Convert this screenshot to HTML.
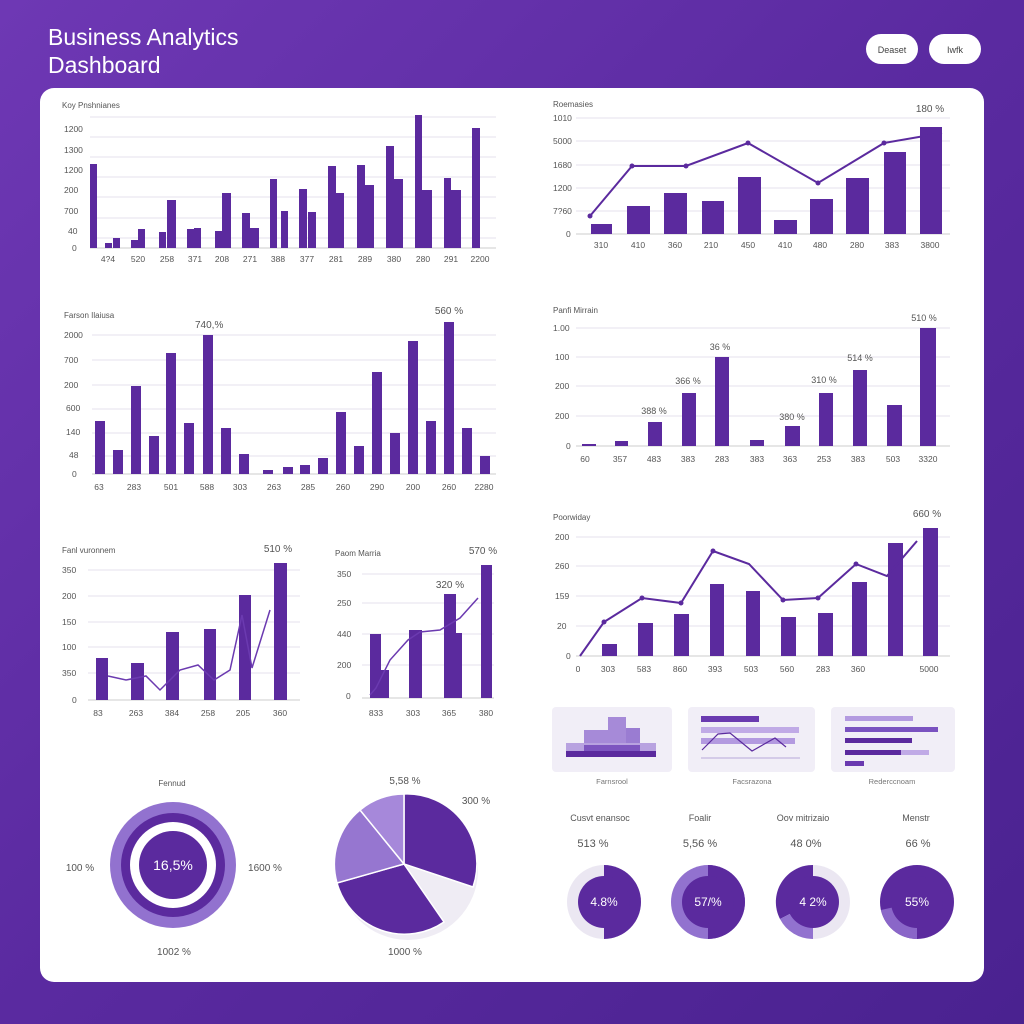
<!DOCTYPE html>
<html><head><meta charset="utf-8"><style>
html,body{margin:0;padding:0;width:1024px;height:1024px;overflow:hidden}
body{background:linear-gradient(135deg,#6e38b4 0%,#5a2aa0 50%,#4a2290 100%)}
svg{position:absolute;left:0;top:0}
text{font-family:"Liberation Sans",sans-serif}
</style></head><body>
<svg width="1024" height="1024" viewBox="0 0 1024 1024">
<text x="48" y="45" font-size="23" fill="#fff">Business Analytics</text>
<text x="48" y="73" font-size="23" fill="#fff">Dashboard</text>
<rect x="866" y="34" width="52" height="30" rx="15" fill="#fff"/>
<text x="892" y="53" font-size="9" fill="#444" text-anchor="middle">Deaset</text>
<rect x="929" y="34" width="52" height="30" rx="15" fill="#fff"/>
<text x="955" y="53" font-size="9" fill="#444" text-anchor="middle">Iwfk</text>
<rect x="40" y="88" width="944" height="894" rx="14" fill="#fff"/>

<g fill="#555" font-size="8.5">
<!-- Chart 1 -->
<text x="62" y="108" font-size="8">Koy Pnshnianes</text>
<g stroke="#e6e2ec" stroke-width="1">
<line x1="90" y1="117" x2="496" y2="117"/><line x1="90" y1="137" x2="496" y2="137"/><line x1="90" y1="157" x2="496" y2="157"/><line x1="90" y1="177" x2="496" y2="177"/><line x1="90" y1="197" x2="496" y2="197"/><line x1="90" y1="218" x2="496" y2="218"/><line x1="90" y1="238" x2="496" y2="238"/><line x1="90" y1="248" x2="496" y2="248" stroke="#ccc"/></g>
<text x="64" y="132">1200</text><text x="64" y="153">1300</text><text x="64" y="173">1200</text><text x="64" y="193">200</text><text x="64" y="214">700</text><text x="68" y="234">40</text><text x="72" y="251">0</text>
<g fill="#5b2a9e">
<rect x="90" y="164" width="7" height="84"/><rect x="105" y="243" width="7" height="5"/><rect x="113" y="238" width="7" height="10"/>
<rect x="131" y="240" width="7" height="8"/><rect x="138" y="229" width="7" height="19"/>
<rect x="159" y="232" width="7" height="16"/><rect x="167" y="200" width="9" height="48"/>
<rect x="187" y="229" width="7" height="19"/><rect x="194" y="228" width="7" height="20"/>
<rect x="215" y="231" width="7" height="17"/><rect x="222" y="193" width="9" height="55"/>
<rect x="242" y="213" width="8" height="35"/><rect x="250" y="228" width="9" height="20"/>
<rect x="270" y="179" width="7" height="69"/><rect x="281" y="211" width="7" height="37"/>
<rect x="299" y="189" width="8" height="59"/><rect x="308" y="212" width="8" height="36"/>
<rect x="328" y="166" width="8" height="82"/><rect x="336" y="193" width="8" height="55"/>
<rect x="357" y="165" width="8" height="83"/><rect x="365" y="185" width="9" height="63"/>
<rect x="386" y="146" width="8" height="102"/><rect x="394" y="179" width="9" height="69"/>
<rect x="415" y="115" width="7" height="133"/><rect x="422" y="190" width="10" height="58"/>
<rect x="444" y="178" width="7" height="70"/><rect x="451" y="190" width="10" height="58"/>
<rect x="472" y="128" width="8" height="120"/></g>
<g text-anchor="middle"><text x="108" y="262">4?4</text><text x="138" y="262">520</text><text x="167" y="262">258</text><text x="195" y="262">371</text><text x="222" y="262">208</text><text x="250" y="262">271</text><text x="278" y="262">388</text><text x="307" y="262">377</text><text x="336" y="262">281</text><text x="365" y="262">289</text><text x="394" y="262">380</text><text x="423" y="262">280</text><text x="451" y="262">291</text><text x="480" y="262">2200</text></g>

<!-- Chart 2 -->
<text x="64" y="318" font-size="8">Farson Ilaiusa</text>
<text x="195" y="328" font-size="10">740,%</text><text x="449" y="314" font-size="10" text-anchor="middle">560 %</text>
<g stroke="#e6e2ec"><line x1="92" y1="335" x2="496" y2="335"/><line x1="92" y1="360" x2="496" y2="360"/><line x1="92" y1="385" x2="496" y2="385"/><line x1="92" y1="409" x2="496" y2="409"/><line x1="92" y1="433" x2="496" y2="433"/><line x1="92" y1="456" x2="496" y2="456"/><line x1="92" y1="474" x2="496" y2="474" stroke="#ccc"/></g>
<text x="64" y="338">2000</text><text x="64" y="363">700</text><text x="64" y="388">200</text><text x="66" y="411">600</text><text x="66" y="435">140</text><text x="69" y="458">48</text><text x="72" y="477">0</text>
<g fill="#5b2a9e">
<rect x="95" y="421" width="10" height="53"/><rect x="113" y="450" width="10" height="24"/><rect x="131" y="386" width="10" height="88"/><rect x="149" y="436" width="10" height="38"/><rect x="166" y="353" width="10" height="121"/><rect x="184" y="423" width="10" height="51"/><rect x="203" y="335" width="10" height="139"/><rect x="221" y="428" width="10" height="46"/><rect x="239" y="454" width="10" height="20"/><rect x="263" y="470" width="10" height="4"/><rect x="283" y="467" width="10" height="7"/><rect x="300" y="465" width="10" height="9"/><rect x="318" y="458" width="10" height="16"/><rect x="336" y="412" width="10" height="62"/><rect x="354" y="446" width="10" height="28"/><rect x="372" y="372" width="10" height="102"/><rect x="390" y="433" width="10" height="41"/><rect x="408" y="341" width="10" height="133"/><rect x="426" y="421" width="10" height="53"/><rect x="444" y="322" width="10" height="152"/><rect x="462" y="428" width="10" height="46"/><rect x="480" y="456" width="10" height="18"/></g>
<g text-anchor="middle"><text x="99" y="490">63</text><text x="134" y="490">283</text><text x="171" y="490">501</text><text x="207" y="490">588</text><text x="240" y="490">303</text><text x="274" y="490">263</text><text x="308" y="490">285</text><text x="343" y="490">260</text><text x="377" y="490">290</text><text x="413" y="490">200</text><text x="449" y="490">260</text><text x="484" y="490">2280</text></g>

<!-- Right 1 -->
<text x="553" y="107" font-size="8">Roemasies</text>
<text x="930" y="112" font-size="10" text-anchor="middle">180 %</text>
<g stroke="#e6e2ec"><line x1="576" y1="118" x2="950" y2="118"/><line x1="576" y1="141" x2="950" y2="141"/><line x1="576" y1="165" x2="950" y2="165"/><line x1="576" y1="188" x2="950" y2="188"/><line x1="576" y1="211" x2="950" y2="211"/><line x1="576" y1="234" x2="950" y2="234" stroke="#ccc"/></g>
<text x="553" y="121">1010</text><text x="553" y="144">5000</text><text x="553" y="168">1680</text><text x="553" y="191">1200</text><text x="553" y="214">7?60</text><text x="566" y="237">0</text>
<g fill="#5b2a9e"><rect x="591" y="224" width="21" height="10"/><rect x="627" y="206" width="23" height="28"/><rect x="664" y="193" width="23" height="41"/><rect x="702" y="201" width="22" height="33"/><rect x="738" y="177" width="23" height="57"/><rect x="774" y="220" width="23" height="14"/><rect x="810" y="199" width="23" height="35"/><rect x="846" y="178" width="23" height="56"/><rect x="884" y="152" width="22" height="82"/><rect x="920" y="127" width="22" height="107"/></g>
<polyline points="590,216 632,166 686,166 748,143 818,183 884,143 942,133" fill="none" stroke="#5b2a9e" stroke-width="2"/>
<g fill="#5b2a9e"><circle cx="590" cy="216" r="2.5"/><circle cx="632" cy="166" r="2.5"/><circle cx="686" cy="166" r="2.5"/><circle cx="748" cy="143" r="2.5"/><circle cx="818" cy="183" r="2.5"/><circle cx="884" cy="143" r="2.5"/></g>
<g text-anchor="middle"><text x="601" y="248">310</text><text x="638" y="248">410</text><text x="675" y="248">360</text><text x="711" y="248">210</text><text x="748" y="248">450</text><text x="785" y="248">410</text><text x="820" y="248">480</text><text x="857" y="248">280</text><text x="892" y="248">383</text><text x="930" y="248">3800</text></g>

<!-- Right 2 -->
<text x="553" y="313" font-size="8">Panfi Mirrain</text>
<g stroke="#e6e2ec"><line x1="576" y1="328" x2="950" y2="328"/><line x1="576" y1="357" x2="950" y2="357"/><line x1="576" y1="386" x2="950" y2="386"/><line x1="576" y1="416" x2="950" y2="416"/><line x1="576" y1="446" x2="950" y2="446" stroke="#ccc"/></g>
<text x="553" y="331">1.00</text><text x="555" y="360">100</text><text x="555" y="389">200</text><text x="555" y="419">200</text><text x="566" y="449">0</text>
<g fill="#5b2a9e"><rect x="582" y="444" width="14" height="2"/><rect x="615" y="441" width="13" height="5"/><rect x="648" y="422" width="14" height="24"/><rect x="682" y="393" width="14" height="53"/><rect x="715" y="357" width="14" height="89"/><rect x="750" y="440" width="14" height="6"/><rect x="785" y="426" width="15" height="20"/><rect x="819" y="393" width="14" height="53"/><rect x="853" y="370" width="14" height="76"/><rect x="887" y="405" width="15" height="41"/><rect x="920" y="328" width="16" height="118"/></g>
<g text-anchor="middle" font-size="9"><text x="654" y="414">388 %</text><text x="688" y="384">366 %</text><text x="720" y="350">36 %</text><text x="792" y="420">380 %</text><text x="824" y="383">310 %</text><text x="860" y="361">514 %</text><text x="924" y="321">510 %</text></g>
<g text-anchor="middle"><text x="585" y="462">60</text><text x="620" y="462">357</text><text x="654" y="462">483</text><text x="688" y="462">383</text><text x="722" y="462">283</text><text x="757" y="462">383</text><text x="790" y="462">363</text><text x="824" y="462">253</text><text x="858" y="462">383</text><text x="893" y="462">503</text><text x="928" y="462">3320</text></g>

<!-- Right 3 -->
<text x="553" y="520" font-size="8">Poorwiday</text>
<text x="927" y="517" font-size="10" text-anchor="middle">660 %</text>
<g stroke="#e6e2ec"><line x1="576" y1="537" x2="950" y2="537"/><line x1="576" y1="566" x2="950" y2="566"/><line x1="576" y1="596" x2="950" y2="596"/><line x1="576" y1="626" x2="950" y2="626"/><line x1="576" y1="656" x2="950" y2="656" stroke="#ccc"/></g>
<text x="555" y="540">200</text><text x="555" y="569">260</text><text x="555" y="599">159</text><text x="557" y="629">20</text><text x="566" y="659">0</text>
<g fill="#5b2a9e"><rect x="602" y="644" width="15" height="12"/><rect x="638" y="623" width="15" height="33"/><rect x="674" y="614" width="15" height="42"/><rect x="710" y="584" width="14" height="72"/><rect x="746" y="591" width="14" height="65"/><rect x="781" y="617" width="15" height="39"/><rect x="818" y="613" width="15" height="43"/><rect x="852" y="582" width="15" height="74"/><rect x="888" y="543" width="15" height="113"/><rect x="923" y="528" width="15" height="128"/></g>
<polyline points="580,656 604,622 642,598 681,603 713,551 749,564 783,600 818,598 856,564 887,576 917,541" fill="none" stroke="#5b2a9e" stroke-width="2"/>
<g fill="#5b2a9e"><circle cx="604" cy="622" r="2.5"/><circle cx="642" cy="598" r="2.5"/><circle cx="681" cy="603" r="2.5"/><circle cx="713" cy="551" r="2.5"/><circle cx="783" cy="600" r="2.5"/><circle cx="818" cy="598" r="2.5"/><circle cx="856" cy="564" r="2.5"/></g>
<g text-anchor="middle"><text x="578" y="672">0</text><text x="608" y="672">303</text><text x="644" y="672">583</text><text x="680" y="672">860</text><text x="715" y="672">393</text><text x="751" y="672">503</text><text x="787" y="672">560</text><text x="823" y="672">283</text><text x="858" y="672">360</text><text x="929" y="672">5000</text></g>

<!-- Bottom A -->
<text x="62" y="553" font-size="8">Fanl vuronnem</text>
<text x="278" y="552" font-size="10" text-anchor="middle">510 %</text>
<g stroke="#e6e2ec"><line x1="88" y1="570" x2="300" y2="570"/><line x1="88" y1="596" x2="300" y2="596"/><line x1="88" y1="622" x2="300" y2="622"/><line x1="88" y1="647" x2="300" y2="647"/><line x1="88" y1="673" x2="300" y2="673"/><line x1="88" y1="700" x2="300" y2="700" stroke="#ccc"/></g>
<text x="62" y="573">350</text><text x="62" y="599">200</text><text x="62" y="625">150</text><text x="62" y="650">100</text><text x="62" y="676">350</text><text x="72" y="703">0</text>
<g fill="#5b2a9e"><rect x="96" y="658" width="12" height="42"/><rect x="131" y="663" width="13" height="37"/><rect x="166" y="632" width="13" height="68"/><rect x="204" y="629" width="12" height="71"/><rect x="239" y="595" width="12" height="105"/><rect x="274" y="563" width="13" height="137"/></g>
<polyline points="108,676 126,680 146,676 160,690 180,670 198,665 214,680 230,670 242,615 252,668 270,610" fill="none" stroke="#6b3ab0" stroke-width="1.5"/>
<g text-anchor="middle"><text x="98" y="716">83</text><text x="136" y="716">263</text><text x="172" y="716">384</text><text x="208" y="716">258</text><text x="243" y="716">205</text><text x="280" y="716">360</text></g>

<!-- Bottom B -->
<text x="335" y="556" font-size="8">Paom Marria</text>
<text x="483" y="554" font-size="10" text-anchor="middle">570 %</text>
<text x="450" y="588" font-size="10" text-anchor="middle">320 %</text>
<g stroke="#e6e2ec"><line x1="362" y1="574" x2="494" y2="574"/><line x1="362" y1="603" x2="494" y2="603"/><line x1="362" y1="634" x2="494" y2="634"/><line x1="362" y1="665" x2="494" y2="665"/><line x1="362" y1="698" x2="494" y2="698" stroke="#ccc"/></g>
<text x="337" y="577">350</text><text x="337" y="606">250</text><text x="337" y="637">440</text><text x="337" y="668">200</text><text x="346" y="699">0</text>
<g fill="#5b2a9e"><rect x="370" y="634" width="11" height="64"/><rect x="381" y="670" width="8" height="28"/><rect x="409" y="630" width="13" height="68"/><rect x="444" y="594" width="12" height="104"/><rect x="456" y="633" width="6" height="65"/><rect x="481" y="565" width="11" height="133"/></g>
<polyline points="370,695 376,688 390,660 408,640 420,632 440,630 460,618 478,598" fill="none" stroke="#6b3ab0" stroke-width="1.5"/>
<g text-anchor="middle"><text x="376" y="716">833</text><text x="413" y="716">303</text><text x="449" y="716">365</text><text x="486" y="716">380</text></g>
</g>

<!-- Thumbnails -->
<rect x="552" y="707" width="120" height="65" rx="4" fill="#f1eef7"/>
<rect x="566" y="743" width="90" height="10" fill="#b8a2e0"/><rect x="584" y="730" width="56" height="13" fill="#a68ad8"/><rect x="608" y="717" width="18" height="13" fill="#a68ad8"/><rect x="626" y="728" width="14" height="15" fill="#9a7cd2"/><rect x="566" y="751" width="90" height="6" fill="#5b2a9e"/><rect x="584" y="745" width="56" height="6" fill="#7d55c0"/>
<rect x="688" y="707" width="127" height="65" rx="4" fill="#f1eef7"/>
<rect x="701" y="716" width="58" height="6" fill="#6a3ab0"/><rect x="701" y="727" width="98" height="6" fill="#c0aae6"/><rect x="701" y="738" width="94" height="6" fill="#b39ae0"/><line x1="701" y1="758" x2="800" y2="758" stroke="#b8a8d8"/>
<polyline points="702,750 718,734 730,733 752,751 775,738 786,747" fill="none" stroke="#5b2a9e" stroke-width="1.2"/>
<rect x="831" y="707" width="124" height="65" rx="4" fill="#f1eef7"/>
<rect x="845" y="716" width="68" height="5" fill="#b39ae0"/><rect x="845" y="727" width="93" height="5" fill="#7a52c0"/><rect x="845" y="738" width="67" height="5" fill="#5b2a9e"/><rect x="845" y="750" width="56" height="5" fill="#5b2a9e"/><rect x="901" y="750" width="28" height="5" fill="#c0aae6"/><rect x="845" y="761" width="19" height="5" fill="#6a3ab0"/>
<g font-size="7.5" fill="#777" text-anchor="middle"><text x="612" y="784">Farnsrool</text><text x="752" y="784">Facsrazona</text><text x="892" y="784">Rederccnoam</text></g>

<!-- Donut left -->
<text x="172" y="786" font-size="8" fill="#555" text-anchor="middle">Fennud</text>
<circle cx="173" cy="865" r="63" fill="#9272cf"/>
<circle cx="173" cy="865" r="52" fill="#5b2a9e"/>
<circle cx="173" cy="865" r="43" fill="#fff"/>
<circle cx="173" cy="865" r="34" fill="#5b2a9e"/>
<text x="173" y="870" font-size="14" fill="#fff" text-anchor="middle">16,5%</text>
<g font-size="10" fill="#555" text-anchor="middle"><text x="80" y="871">100 %</text><text x="265" y="871">1600 %</text><text x="174" y="955">1002 %</text><text x="405" y="784">5,58 %</text><text x="476" y="804">300 %</text><text x="405" y="955">1000 %</text></g>

<!-- Pie -->
<circle cx="408" cy="870" r="70" fill="#efecf4"/>
<g stroke="#fff" stroke-width="1.5">
<path d="M404,864 L404,794 A70,70 0 0,1 473,887 Z" fill="#5b2a9e"/>
<path d="M404,864 L444,922 A70,70 0 0,1 337,883 Z" fill="#5b2a9e"/>
<path d="M404,864 L337,883 A70,70 0 0,1 360,810 Z" fill="#9676d0"/>
<path d="M404,864 L360,810 A70,70 0 0,1 404,794 Z" fill="#a688da"/>
</g>

<!-- small donuts -->
<g font-size="9" fill="#555" text-anchor="middle">
<text x="600" y="821">Cusvt enansoc</text><text x="700" y="821">Foalir</text><text x="803" y="821">Oov mitrizaio</text><text x="916" y="821">Menstr</text>
<text x="593" y="847" font-size="11">513 %</text><text x="700" y="847" font-size="11">5,56 %</text><text x="806" y="847" font-size="11">48 0%</text><text x="918" y="847" font-size="11">66 %</text></g>
<circle cx="604" cy="902" r="37" fill="#ebe7f2"/><path d="M604,865 A37,37 0 0,1 604,939 Z" fill="#5b2a9e"/><circle cx="604" cy="902" r="26" fill="#5b2a9e"/>
<circle cx="708" cy="902" r="37" fill="#9272cf"/><path d="M708,865 A37,37 0 0,1 708,939 Z" fill="#5b2a9e"/><circle cx="708" cy="902" r="26" fill="#5b2a9e"/>
<circle cx="813" cy="902" r="37" fill="#ebe7f2"/><path d="M813,902 L813,865 A37,37 0 0,0 780,919 Z" fill="#5b2a9e"/><path d="M813,902 L780,919 A37,37 0 0,0 813,939 Z" fill="#9272cf"/><circle cx="813" cy="902" r="26" fill="#5b2a9e"/>
<circle cx="917" cy="902" r="37" fill="#5b2a9e"/><path d="M917,902 L881,910 A37,37 0 0,0 917,939 Z" fill="#8a66c8"/><circle cx="917" cy="902" r="26" fill="#5b2a9e"/>
<g font-size="12" fill="#fff" text-anchor="middle"><text x="604" y="906">4.8%</text><text x="708" y="906">57/%</text><text x="813" y="906">4 2%</text><text x="917" y="906">55%</text></g>
</svg>
</body></html>
